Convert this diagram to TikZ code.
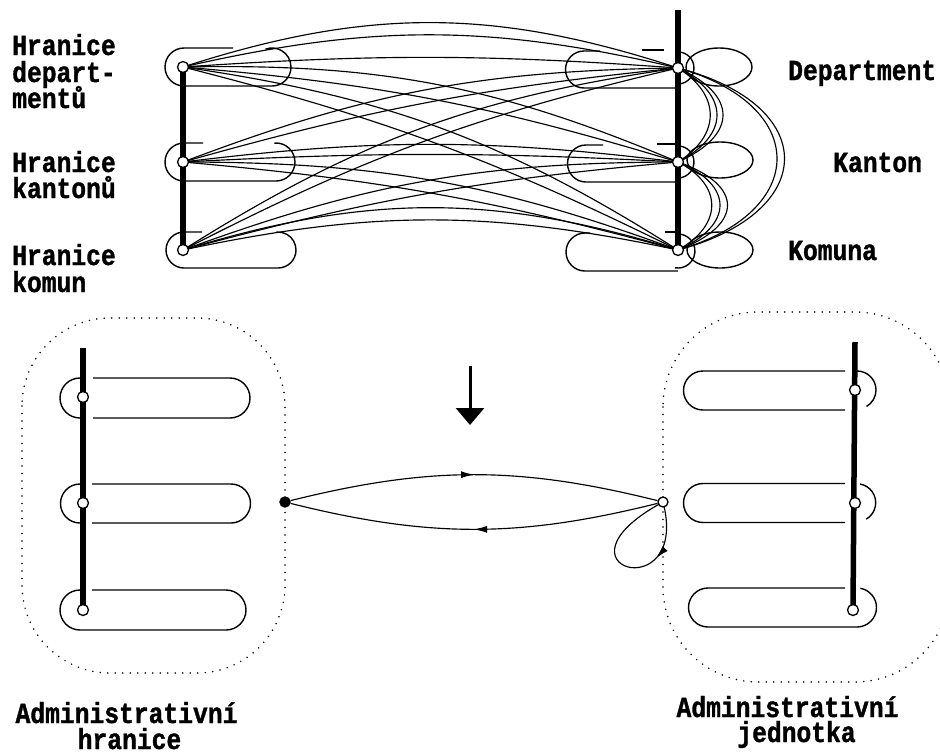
\documentclass[tikz,border=0pt]{standalone}
\usepackage{fontspec}
\newfontfamily\tw{Liberation Mono Bold}[FakeStretch=0.85,FakeBold=1.2]
\usetikzlibrary{arrows.meta,decorations.markings}
\pgfdeclarelayer{bg}
\pgfsetlayers{bg,main}
\begin{document}
\begin{tikzpicture}[x=1pt,y=-1pt,line width=1.4pt,
  oc/.style={circle,draw,fill=white,minimum size=11pt,inner sep=0pt,line width=1.3pt},
  fc/.style={circle,draw,fill=black,minimum size=10pt,inner sep=0pt},
  bar/.style={line width=5.5pt},
  edge/.style={line width=1.15pt},
  shp/.style={line width=1.4pt},
  lbl/.style={font=\tw\fontsize{29}{26.5}\selectfont,inner sep=0pt,anchor=base west},
  lblc/.style={font=\tw\fontsize{29}{26.5}\selectfont,inner sep=0pt,anchor=base},
  dots/.style={line width=1.7pt,line cap=round,dash pattern=on 0pt off 7.5pt},
  midarrow/.style={postaction={decorate,decoration={markings,
     mark=at position #1 with {\arrow{Latex[length=13pt,width=7pt]}}}}}
]
\useasboundingbox (0,0) rectangle (940,753);

% ---------- top part: nodes ----------
\node[oc] (L1) at (183,67) {};
\node[oc] (L2) at (183,162) {};
\node[oc] (L3) at (183,250) {};
\node[oc] (R1) at (678,68) {};
\node[oc] (R2) at (678,162) {};
\node[oc] (R3) at (678,250) {};
\coordinate (Rtop) at (678,10);

% ---------- bottom part: nodes ----------
\node[oc] (BL1) at (83,397) {};
\node[oc] (BL2) at (83,503) {};
\node[oc] (BL3) at (83,610) {};
\coordinate (BLtop) at (83,348);
\node[oc] (BR1) at (855,390) {};
\node[oc] (BR2) at (855,503) {};
\node[oc] (BR3) at (853,610) {};
\coordinate (BRtop) at (855,342);
\node[fc] (D) at (285,502) {};
\node[oc,minimum size=10pt] (E) at (663,502) {};
\coordinate (A1) at (470,366);
\coordinate (A2) at (470,425);

\begin{pgfonlayer}{bg}
\begin{scope}[shp]
% bars
\draw[bar] (L1.center) -- (L3.center);
\draw[bar] (Rtop) -- (R3.center);
\draw[bar] (BLtop) -- (BL3.center);
\draw[bar] (BRtop) -- (BR3.center);

% crossing edges
\foreach \a/\b/\c in {L1/R1/18,L1/R1/13,L1/R1/4,L1/R2/12,L1/R2/6,L1/R3/12,L1/R3/6,
  L2/R1/10,L2/R1/5,L2/R2/7,L2/R2/3,L2/R3/10,L2/R3/5,
  L3/R1/12,L3/R1/7,L3/R2/10,L3/R2/5,L3/R3/17,L3/R3/12}
  \draw[edge] (\a.center) to[bend left=\c] (\b.center);

% right side arcs
\foreach \x in {721,730,738}
  \draw[edge] (R1.center) .. controls (\x,95) and (\x,135) .. (R2.center);
\foreach \x in {723,734,744}
  \draw[edge] (R2.center) .. controls (\x,185) and (\x,225) .. (R3.center);
\foreach \x in {810,820}
  \draw[edge] (R1.center) .. controls (\x,105) and (\x,212) .. (R3.center);

% petals
\draw[shp] (719,67) ellipse [x radius=33,y radius=19];
\draw[shp] (720,160) ellipse [x radius=33,y radius=18];
\draw[shp] (720,250) ellipse [x radius=33,y radius=18];

% top-left stadiums
\draw[shp] (233,48) -- (184,48) arc[start angle=-90,end angle=-270,radius=19] -- (272,86) arc[start angle=90,end angle=-110,radius=19];
\draw[shp] (203,143) -- (184,143) arc[start angle=-90,end angle=-270,radius=19] -- (276,181) arc[start angle=90,end angle=-95,radius=19];
\draw[shp] (202,232) -- (184,232) arc[start angle=-90,end angle=-270,radius=18] -- (278,268) arc[start angle=90,end angle=-95,radius=18];

% top-right stadiums
\draw[shp] (600,51) -- (584,51) arc[start angle=-90,end angle=-270,radius=18.5] -- (678,88);
\draw[shp] (675.2,52.2) arc[start angle=-100,end angle=100,radius=16];
\draw[shp] (642,50) -- (664,50);
\draw[shp] (603,145) -- (586,145) arc[start angle=-90,end angle=-270,radius=18.5] -- (678,182);
\draw[shp] (675.2,146.2) arc[start angle=-100,end angle=100,radius=16];
\draw[shp] (657,144) -- (675,144);
\draw[shp] (590,233) -- (585,233) arc[start angle=-90,end angle=-270,radius=19] -- (678,271);
\draw[shp] (675,234.3) arc[start angle=-100,end angle=100,radius=17];
\draw[shp] (665,232) -- (677,232);

% bottom-left group
\draw[dots,rounded corners=88pt] (22,318) rectangle (285,673);
\draw[shp] (80,378) arc[start angle=-90,end angle=-270,radius=20];
\draw[shp] (93,378) -- (230,378) arc[start angle=-90,end angle=90,radius=20] -- (93,418);
\draw[shp] (80,484) arc[start angle=-90,end angle=-270,radius=19.5];
\draw[shp] (92,484) -- (231,484) arc[start angle=-90,end angle=90,radius=19.5] -- (92,523);
\draw[shp] (92,590) -- (226,590) arc[start angle=-90,end angle=90,radius=20] -- (80,630) arc[start angle=90,end angle=270,radius=20];

% bottom-right group
\draw[dots,rounded corners=95pt] (663,312) rectangle (950,682);
\draw[shp] (845,371) -- (703,371) arc[start angle=-90,end angle=-270,radius=19.5] -- (845,410);
\draw[shp] (857,371) arc[start angle=-90,end angle=60,radius=19];
\draw[shp] (845,483.5) -- (703,483.5) arc[start angle=-90,end angle=-270,radius=19.5] -- (845,522.5);
\draw[shp] (860,484) arc[start angle=-80,end angle=60,radius=19];
\draw[shp] (845,588) -- (708,588) arc[start angle=-90,end angle=-270,radius=19.5] -- (857,627) arc[start angle=90,end angle=-80,radius=19.5];

% middle connectors
\draw[edge,midarrow=0.5] (D) to[bend left=14] (E);
\draw[edge,midarrow=0.5] (E) to[bend left=14] (D);
\draw[edge,midarrow=0.32] (E.center) .. controls (691,609) and (541,568) .. (E.center);

% big arrow
\draw[line width=3pt,-{Triangle[width=28pt,length=17pt]}] (A1) -- (A2);
\end{scope}
\end{pgfonlayer}

% ---------- labels ----------
\node[lbl] (t1a) at (12,55) {Hranice};
\node[lbl] (t1b) at (12,82) {depart-};
\node[lbl] (t1c) at (12,108) {mentů};
\node[lbl] (t2a) at (12,172) {Hranice};
\node[lbl] (t2b) at (12,198) {kantonů};
\node[lbl] (t3a) at (12,265) {Hranice};
\node[lbl] (t3b) at (12,292) {komun};
\node[lbl] (tr1) at (788,80) {Department};
\node[lbl] (tr2) at (833,172) {Kanton};
\node[lbl] (tr3) at (788,260) {Komuna};
\node[lblc] (b1a) at (126.5,723) {Administrativní};
\node[lblc] (b1b) at (129.5,749) {hranice};
\node[lblc] (b2a) at (787.5,717) {Administrativní};
\node[lblc] (b2b) at (796.5,742) {jednotka};
\end{tikzpicture}
\end{document}
